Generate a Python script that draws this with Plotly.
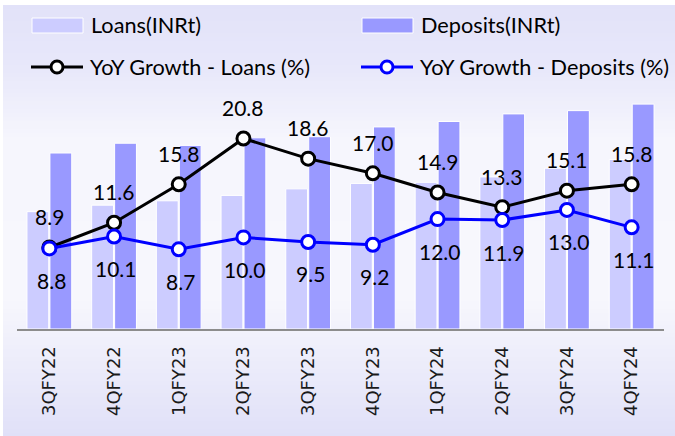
import plotly.graph_objects as go

# Quarter labels and series
quarters = ["3QFY22", "4QFY22", "1QFY23", "2QFY23", "3QFY23",
            "4QFY23", "1QFY24", "2QFY24", "3QFY24", "4QFY24"]
loans = [108, 114, 118, 123, 129, 134, 135, 140, 148, 156]          # INR tn (approx.)
deposits = [162, 171, 169, 176, 177, 186, 191, 198, 201, 207]       # INR tn (approx.)
loan_growth = [8.9, 11.6, 15.8, 20.8, 18.6, 17.0, 14.9, 13.3, 15.1, 15.8]
deposit_growth = [8.8, 10.1, 8.7, 10.0, 9.5, 9.2, 12.0, 11.9, 13.0, 11.1]

W, H = 675, 436
L, R, T, B = 17, 11, 85, 107
PW, PH = W - L - R, H - T - B

LOAN_C = "#ccccff"
DEP_C = "#9999ff"
TXT_FONT = "Lato"


def px(x):
    return (x - L) / PW


def py(y):
    return (H - B - y) / PH


fig = go.Figure()

fig.add_trace(go.Bar(x=quarters, y=loans, name="Loans(INRt)",
                     marker=dict(color=LOAN_C, line=dict(color="white", width=1))))
fig.add_trace(go.Bar(x=quarters, y=deposits, name="Deposits(INRt)",
                     marker=dict(color=DEP_C, line=dict(color="white", width=1))))
fig.add_trace(go.Scatter(x=quarters, y=loan_growth, yaxis="y2", mode="lines+markers",
                         name="YoY Growth - Loans (%)",
                         line=dict(color="black", width=3),
                         marker=dict(size=13, color="white", line=dict(color="black", width=3))))
fig.add_trace(go.Scatter(x=quarters, y=deposit_growth, yaxis="y2", mode="lines+markers",
                         name="YoY Growth - Deposits (%)",
                         line=dict(color="#0000ff", width=3),
                         marker=dict(size=13, color="white", line=dict(color="#0000ff", width=3))))

# data labels
annotations = []
for q, v in zip(quarters, loan_growth):
    annotations.append(dict(x=q, y=v, xref="x", yref="y2", text=f"{v:.1f}",
                            showarrow=False, yshift=31,
                            font=dict(family=TXT_FONT, size=21, color="black")))
for q, v in zip(quarters, deposit_growth):
    annotations.append(dict(x=q, y=v, xref="x", yref="y2", text=f"{v:.1f}",
                            showarrow=False, yshift=-32, xshift=2,
                            font=dict(family=TXT_FONT, size=21, color="black")))

# background gradient (vertical bands)
stops = [(5, (226, 226, 249)), (70, (232, 232, 250)), (140, (246, 246, 253)),
         (300, (247, 247, 253)), (340, (240, 240, 251)), (436, (224, 224, 248))]
shapes = []
step = 4
for y0 in range(5, H, step):
    y1 = min(y0 + step, H)
    ym = (y0 + y1) / 2
    for (a, ca), (b, cb) in zip(stops[:-1], stops[1:]):
        if a <= ym <= b:
            t = (ym - a) / (b - a)
            c = tuple(round(ca[i] + (cb[i] - ca[i]) * t) for i in range(3))
            break
    shapes.append(dict(type="rect", xref="paper", yref="paper", layer="below",
                       x0=px(3), x1=px(W), y0=py(y1), y1=py(y0),
                       fillcolor="rgb(%d,%d,%d)" % c, line=dict(width=0)))

# hand-made legend
leg = [
    ("bar", LOAN_C, 32, 25, "Loans(INRt)"),
    ("bar", DEP_C, 362, 25, "Deposits(INRt)"),
    ("line", "black", 31, 67, "YoY Growth - Loans (%)"),
    ("line", "#0000ff", 361, 67, "YoY Growth - Deposits (%)"),
]
for kind, col, x0, yc, label in leg:
    if kind == "bar":
        shapes.append(dict(type="rect", xref="paper", yref="paper",
                           x0=px(x0), x1=px(x0 + 51), y0=py(yc + 8), y1=py(yc - 7),
                           fillcolor=col, line=dict(color="white", width=1)))
    else:
        shapes.append(dict(type="line", xref="paper", yref="paper",
                           x0=px(x0), x1=px(x0 + 52), y0=py(yc), y1=py(yc),
                           line=dict(color=col, width=3)))
        cx = x0 + 26
        shapes.append(dict(type="circle", xref="paper", yref="paper",
                           x0=px(cx - 6), x1=px(cx + 6), y0=py(yc + 6), y1=py(yc - 6),
                           fillcolor="white", line=dict(color=col, width=3)))
    annotations.append(dict(x=px(x0 + 57), y=py(yc), xref="paper", yref="paper",
                            text=label, showarrow=False, xanchor="left", yanchor="middle",
                            font=dict(family=TXT_FONT, size=21.7, color="black")))

fig.update_layout(
    width=W, height=H,
    margin=dict(l=L, r=R, t=T, b=B, pad=0),
    paper_bgcolor="white",
    plot_bgcolor="rgba(0,0,0,0)",
    showlegend=False,
    barmode="group",
    bargap=0.29,
    bargroupgap=0.05,
    xaxis=dict(range=[-0.5, len(quarters) - 0.5], showline=True,
               linecolor="#8c8c8c", linewidth=2, showgrid=False,
               ticks="", tickangle=-90, ticklabelstandoff=8,
               tickfont=dict(family="DejaVu Sans", size=18, color="#1a1a1a")),
    yaxis=dict(range=[0, 224.6], visible=False, showgrid=False),
    yaxis2=dict(range=[0, 26.64], overlaying="y", side="right", visible=False,
                showgrid=False),
    shapes=shapes,
    annotations=annotations,
)

# drop the default page margin so the figure sits at the window corner
fig.write_html("out.html", config={"displayModeBar": False},
               post_script="document.body.style.margin='0';")
